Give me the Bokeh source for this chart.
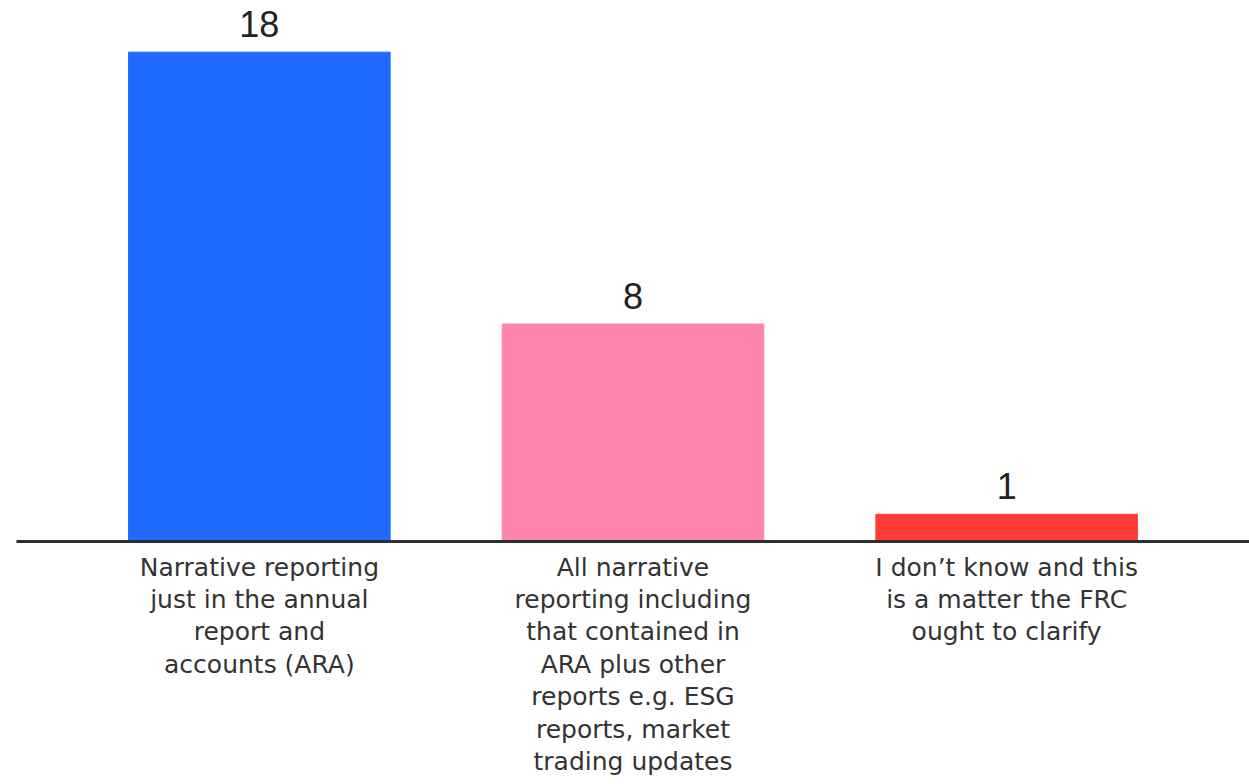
from bokeh.plotting import figure
from bokeh.models import ColumnDataSource, FactorRange, Range1d
from bokeh.core.properties import value
from bokeh.embed import file_html
from bokeh.resources import INLINE

categories = [
    "Narrative reporting\njust in the annual\nreport and\naccounts (ARA)",
    "All narrative\nreporting including\nthat contained in\nARA plus other\nreports e.g. ESG\nreports, market\ntrading updates",
    "I don\u2019t know and this\nis a matter the FRC\nought to clarify",
]
counts = [18, 8, 1]
colors = ["#1F69FF", "#FF85AD", "#FF3D35"]
labels = [str(c) for c in counts]

src = ColumnDataSource(dict(cat=categories, val=counts, col=colors, lab=labels))

p = figure(width=1249, height=784, output_backend="svg", toolbar_location=None,
           x_range=FactorRange(*categories, range_padding=0.1),
           y_range=Range1d(0, 19.9))
p.min_border_left = 16
p.min_border_right = 0
p.min_border_top = 0
p.min_border_bottom = 243
p.outline_line_color = None
p.background_fill_color = "white"
p.border_fill_color = "white"
p.grid.visible = False
p.yaxis.visible = False

p.vbar(x="cat", top="val", width=0.7, color="col", source=src)
p.text(x="cat", y="val", text="lab", source=src, text_align="center",
       text_baseline="bottom", y_offset=-15, text_font=value("Liberation Sans"),
       text_font_size="36px", text_color="#222222")

xa = p.xaxis[0]
xa.axis_line_color = "#2A2F33"
xa.axis_line_width = 3
xa.major_tick_line_color = None
xa.minor_tick_line_color = None
xa.major_tick_out = 0
xa.major_tick_in = 0
xa.major_label_standoff = 11
xa.major_label_text_font = "DejaVu Sans"
xa.major_label_text_font_size = "25px"
xa.major_label_text_color = "#333333"
xa.major_label_text_line_height = 1.12
xa.major_label_text_align = "center"

open("out.html", "w").write(file_html(p, INLINE))
